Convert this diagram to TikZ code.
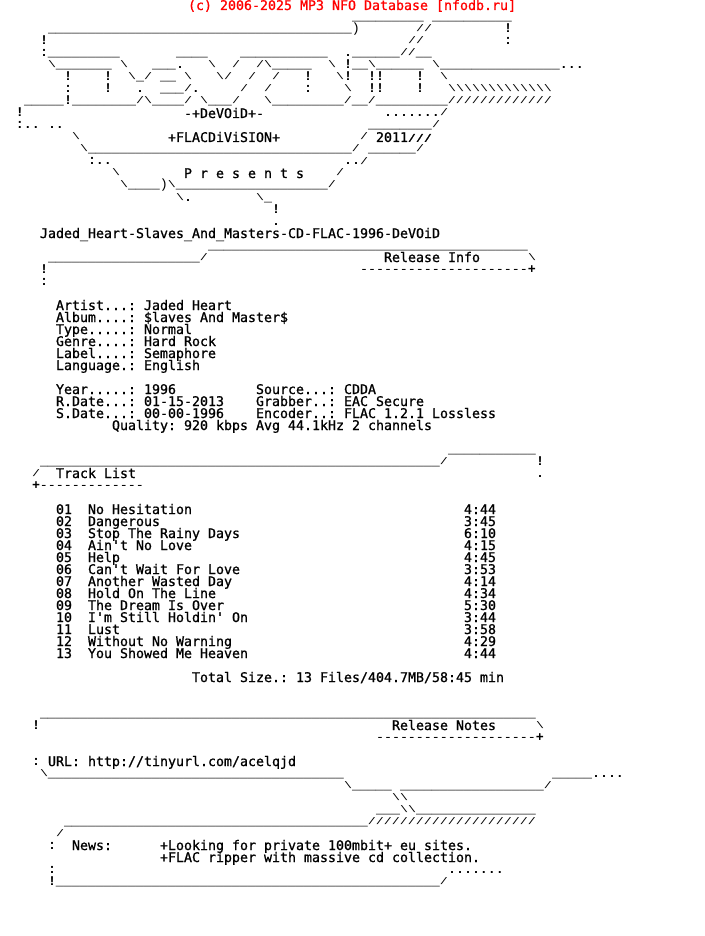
\documentclass[tikz,border=0pt]{standalone}
\usepackage{fontspec}
\usepackage{graphicx}
\setmonofont{Liberation Mono}
\newfontfamily\nfotextfont{DejaVu Sans Mono}[FakeBold=1]
\frenchspacing
\newcommand{\bs}{\raisebox{1pt}{\scalebox{1}[0.72]{\char92 }}}
\newcommand{\fs}{\raisebox{1pt}{\scalebox{1}[0.72]{/}}}
\newcommand{\hv}[1]{\textbf{#1}}
\newcommand{\rep}[2]{\foreach \n in {1,...,#1}{#2}}
\newcommand{\art}[3]{\node[nfo art] (r#1c#2) at ({#2*8},{-#1*12-9}) {#3};}
\newcommand{\txt}[3]{\node[nfo text] (r#1c#2) at ({#2*8},{-#1*12-10}) {#3};}
\begin{document}
\begin{tikzpicture}[x=1pt,y=1pt,
  nfo art/.style={anchor=base west,inner sep=0pt,outer sep=0pt,text height=8pt,text depth=2pt,font=\fontsize{13.33}{12}\ttfamily},
  nfo text/.style={nfo art,font=\fontsize{13.29}{12}\nfotextfont},
  nfo title/.style={nfo text,text={rgb,255:red,255;green,0;blue,0}}]
  \useasboundingbox (0,0) rectangle (704,-936);
  \node[nfo title] (title) at (188,-10) {(c) 2006-2025 MP3 NFO Database [nfodb.ru]};
  \art{1}{44}{\rep{9}{\_}}
  \art{1}{54}{\rep{10}{\_}}
  \art{2}{6}{\rep{38}{\_})}
  \art{2}{52}{\fs\fs}
  \art{2}{63}{\hv{!}}
  \art{3}{5}{\hv{!}}
  \art{3}{51}{\fs\fs}
  \art{3}{63}{\hv{:}}
  \art{4}{5}{\hv{:}\rep{9}{\_}}
  \art{4}{22}{\rep{4}{\_}}
  \art{4}{30}{\rep{11}{\_}}
  \art{4}{43}{\hv{.}\rep{6}{\_}\fs\fs\_\_}
  \art{5}{6}{\bs\rep{7}{\_}}
  \art{5}{15}{\bs}
  \art{5}{19}{\_\_\_\hv{.}}
  \art{5}{26}{\bs}
  \art{5}{29}{\fs}
  \art{5}{32}{\fs\bs\rep{5}{\_}}
  \art{5}{41}{\bs}
  \art{5}{43}{\hv{!}\_\_\bs\rep{6}{\_}}
  \art{5}{54}{\bs\rep{15}{\_}\hv{...}}
  \art{6}{8}{\hv{!}}
  \art{6}{13}{\hv{!}}
  \art{6}{16}{\bs\_\fs}
  \art{6}{20}{\_\_}
  \art{6}{23}{\bs}
  \art{6}{27}{\bs\fs}
  \art{6}{31}{\fs}
  \art{6}{34}{\fs}
  \art{6}{38}{\hv{!}}
  \art{6}{42}{\bs\hv{!}}
  \art{6}{46}{\hv{!!}}
  \art{6}{52}{\hv{!}}
  \art{6}{55}{\bs}
  \art{7}{8}{\hv{:}}
  \art{7}{13}{\hv{!}}
  \art{7}{17}{\hv{.}}
  \art{7}{20}{\_\_\_\fs\hv{.}}
  \art{7}{30}{\fs}
  \art{7}{33}{\fs}
  \art{7}{38}{\hv{:}}
  \art{7}{43}{\bs}
  \art{7}{46}{\hv{!!}}
  \art{7}{52}{\hv{!}}
  \art{7}{56}{\rep{13}{\bs}}
  \art{8}{3}{\rep{5}{\_}\hv{!}\rep{8}{\_}\fs\bs\rep{4}{\_}\fs}
  \art{8}{25}{\bs\_\_\_\fs}
  \art{8}{33}{\bs\rep{9}{\_}\fs\_\_\fs\rep{9}{\_}\rep{13}{\fs}}
  \art{9}{2}{\hv{!}}
  \txt{9}{23}{-+DeVOiD+-}
  \art{9}{48}{\hv{.......}\fs}
  \art{10}{2}{\hv{:..}}
  \art{10}{6}{\hv{..}}
  \art{10}{46}{\rep{8}{\_}\fs}
  \art{11}{9}{\bs}
  \txt{11}{21}{+FLACDiViSION+}
  \art{11}{45}{\fs}
  \txt{11}{47}{2011\fs\fs\fs}
  \art{12}{10}{\bs\rep{33}{\_}\fs}
  \art{12}{46}{\rep{6}{\_}\fs}
  \art{13}{11}{\hv{:..}}
  \art{13}{43}{\hv{..}\fs}
  \art{14}{14}{\bs}
  \txt{14}{23}{P r e s e n t s}
  \art{14}{42}{\fs}
  \art{15}{15}{\bs\rep{4}{\_})\bs\rep{19}{\_}\fs}
  \art{16}{22}{\bs\hv{.}}
  \art{16}{32}{\bs\_}
  \art{17}{34}{\hv{!}}
  \art{18}{34}{\hv{.}}
  \txt{19}{5}{Jaded\_Heart-Slaves\_And\_Masters-CD-FLAC-1996-DeVOiD}
  \art{20}{26}{\rep{40}{\_}}
  \art{21}{6}{\rep{19}{\_}\fs}
  \txt{21}{48}{Release Info}
  \art{21}{66}{\bs}
  \art{22}{5}{\hv{!}}
  \art{22}{45}{\rep{21}{-}\hv{+}}
  \art{23}{5}{\hv{:}}
  \txt{25}{7}{Artist...: Jaded Heart}
  \txt{26}{7}{Album....: \$laves And Master\$}
  \txt{27}{7}{Type.....: Normal}
  \txt{28}{7}{Genre....: Hard Rock}
  \txt{29}{7}{Label....: Semaphore}
  \txt{30}{7}{Language.: English}
  \txt{32}{7}{Year.....: 1996}
  \txt{32}{32}{Source...: CDDA}
  \txt{33}{7}{R.Date...: 01-15-2013}
  \txt{33}{32}{Grabber..: EAC Secure}
  \txt{34}{7}{S.Date...: 00-00-1996}
  \txt{34}{32}{Encoder..: FLAC 1.2.1 Lossless}
  \txt{35}{14}{Quality: 920 kbps Avg 44.1kHz 2 channels}
  \art{37}{56}{\rep{11}{\_}}
  \art{38}{5}{\rep{50}{\_}\fs}
  \art{38}{67}{\hv{!}}
  \art{39}{4}{\fs}
  \txt{39}{7}{Track List}
  \art{39}{67}{\hv{.}}
  \art{40}{4}{\hv{+}\rep{13}{-}}
  \foreach \row/\num/\name/\len in {42/01/No Hesitation/4:44,43/02/Dangerous/3:45,
      44/03/Stop The Rainy Days/6:10,45/04/Ain't No Love/4:15,46/05/Help/4:45,
      47/06/Can't Wait For Love/3:53,48/07/Another Wasted Day/4:14,49/08/Hold On The Line/4:34,
      50/09/The Dream Is Over/5:30,51/10/I'm Still Holdin' On/3:44,52/11/Lust/3:58,
      53/12/Without No Warning/4:29,54/13/You Showed Me Heaven/4:44}{
    \txt{\row}{7}{\num}
    \txt{\row}{11}{\name}
    \txt{\row}{58}{\len}
  }
  \txt{56}{24}{Total Size.: 13 Files/404.7MB/58:45 min}
  \art{59}{5}{\rep{62}{\_}}
  \art{60}{4}{\hv{!}}
  \txt{60}{49}{Release Notes}
  \art{60}{67}{\bs}
  \art{61}{47}{\rep{20}{-}\hv{+}}
  \art{63}{4}{\hv{:}}
  \txt{63}{6}{URL: http://tinyurl.com/acelqjd}
  \art{64}{5}{\bs\rep{37}{\_}}
  \art{64}{69}{\rep{5}{\_}\hv{....}}
  \art{65}{43}{\bs\rep{5}{\_}}
  \art{65}{50}{\rep{18}{\_}\fs}
  \art{66}{49}{\bs\bs}
  \art{67}{47}{\_\_\_\bs\bs\rep{15}{\_}}
  \art{68}{8}{\rep{38}{\_}\rep{21}{\fs}}
  \art{69}{7}{\fs}
  \art{70}{6}{\hv{:}}
  \txt{70}{9}{News:}
  \txt{70}{20}{+Looking for private 100mbit+ eu sites.}
  \txt{71}{20}{+FLAC ripper with massive cd collection.}
  \art{72}{6}{\hv{:}}
  \art{72}{56}{\hv{.......}}
  \art{73}{6}{\hv{!}\rep{48}{\_}\fs}
\end{tikzpicture}
\end{document}
